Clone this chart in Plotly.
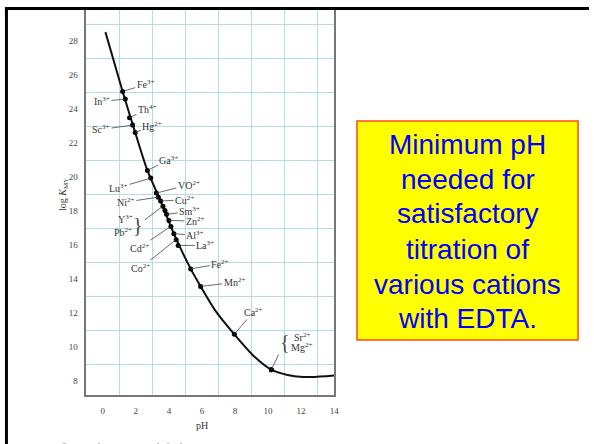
import plotly.graph_objects as go

W, H = 594, 444

# ---------------- data ----------------
curve_ph = [0.16, 1.20, 1.96, 2.70, 3.50, 4.30, 5.32, 5.92, 6.80, 7.96, 9.20, 10.20, 11.60, 12.60, 14.00]
curve_logk = [28.53, 25.04, 22.63, 20.39, 18.59, 16.67, 14.60, 13.57, 12.16, 10.75, 9.41, 8.67, 8.28, 8.24, 8.33]

cation_names = ["Fe<sup>3+</sup>", "In<sup>3+</sup>", "Th<sup>4+</sup>", "Sc<sup>3+</sup>", "Hg<sup>2+</sup>",
                "Ga<sup>3+</sup>", "Lu<sup>3+</sup>", "VO<sup>2+</sup>", "Ni<sup>2+</sup>", "Cu<sup>2+</sup>",
                "Y<sup>3+</sup>", "Pb<sup>2+</sup>", "Sm<sup>3+</sup>", "Zn<sup>2+</sup>", "Cd<sup>2+</sup>",
                "Al<sup>3+</sup>", "Co<sup>2+</sup>", "La<sup>3+</sup>", "Fe<sup>2+</sup>", "Mn<sup>2+</sup>",
                "Ca<sup>2+</sup>", "Sr<sup>2+</sup>", "Mg<sup>2+</sup>"]
cation_ph = [1.20, 1.36, 1.62, 1.80, 1.96, 2.70, 2.90, 3.24, 3.36, 3.50, 3.64, 3.76, 3.86, 4.00, 4.12,
             4.30, 4.44, 4.56, 5.32, 5.92, 7.96, 10.20, 10.20]
cation_logk = [25.04, 24.59, 23.49, 23.06, 22.63, 20.39, 19.94, 19.06, 18.82, 18.59, 18.29, 18.04, 17.81,
               17.45, 17.10, 16.67, 16.32, 15.98, 14.60, 13.57, 10.75, 8.67, 8.67]
label_ph = [2.6, -0.04, 2.7, -0.1, 3.0, 4.0, 0.96, 5.2, 1.4, 4.96, 1.4, 1.2, 5.26, 5.6, 2.2,
            5.6, 2.3, 6.2, 7.1, 7.95, 9.1, 12.05, 12.05]
label_logk = [25.45, 24.45, 24.02, 22.8, 23.02, 21.02, 19.38, 19.55, 18.53, 18.67, 17.55, 16.76, 17.98,
              17.41, 15.85, 16.57, 14.67, 15.98, 14.9, 13.8, 12.06, 10.62, 9.98]
label_leader = [True, True, True, True, True, True, True, True, True, True, False, False, True,
                True, True, True, True, True, True, True, True, False, False]

# grouped labels: bracket glyph, its position and the point its leader goes to
bracket_text = ["}", "{"]
bracket_ph = [2.16, 11.0]
bracket_logk = [17.2, 10.3]
bracket_target = [10, 21]  # indices into cation arrays

x_ticks = [0, 2, 4, 6, 8, 10, 12, 14]
y_ticks = [8, 10, 12, 14, 16, 18, 20, 22, 24, 26, 28]

box_lines = ["Minimum pH", "needed for", "satisfactory", "titration of", "various cations", "with EDTA."]
box_line_y = [144, 179, 213, 249, 284, 318]

# ---------------- figure ----------------
def px(x):
    return x / W


def py(y):
    return 1 - y / H


SERIF = "Liberation Serif, Times New Roman, serif"
SANS = "Liberation Sans, Arial, sans-serif"
GRID = "#b2dcea"

fig = go.Figure()
fig.add_trace(go.Scatter(x=curve_ph, y=curve_logk, mode="lines",
                         line=dict(color="#111", width=2, shape="spline", smoothing=0.8),
                         hoverinfo="skip", showlegend=False))
fig.add_trace(go.Scatter(x=cation_ph, y=cation_logk, mode="markers",
                         marker=dict(color="#000", size=5), showlegend=False))

annotations = []
for name, xp, yp, lx, ly, lead in zip(cation_names, cation_ph, cation_logk, label_ph, label_logk, label_leader):
    if lead:
        annotations.append(dict(x=xp, y=yp, xref="x", yref="y", ax=lx, ay=ly, axref="x", ayref="y",
                                text=name, showarrow=True, arrowhead=0, arrowwidth=0.8,
                                arrowcolor="#444", standoff=0, startstandoff=0,
                                font=dict(family=SERIF, size=10, color="#333")))
    else:
        annotations.append(dict(x=lx, y=ly, xref="x", yref="y", text=name, showarrow=False,
                                font=dict(family=SERIF, size=10, color="#333")))

for t, bx, by, idx in zip(bracket_text, bracket_ph, bracket_logk, bracket_target):
    annotations.append(dict(x=cation_ph[idx], y=cation_logk[idx], xref="x", yref="y",
                            ax=bx, ay=by, axref="x", ayref="y", text=t, showarrow=True,
                            arrowhead=0, arrowwidth=0.8, arrowcolor="#444", standoff=0,
                            font=dict(family=SERIF, size=20, color="#444")))

# axis titles
annotations.append(dict(x=px(204), y=py(418), xref="paper", yref="paper", yanchor="top",
                        text="pH", showarrow=False,
                        font=dict(family=SERIF, size=10, color="#333")))
annotations.append(dict(x=px(55), y=py(195), xref="paper", yref="paper",
                        text="log <i>K</i><sub>MY</sub>", textangle=-90, showarrow=False,
                        font=dict(family=SERIF, size=10, color="#333")))
# copyright (cut off at bottom)
annotations.append(dict(x=px(60), y=py(440), xref="paper", yref="paper", xanchor="left", yanchor="top",
                        text="© 2004 Thomson - Brooks/Cole", showarrow=False,
                        font=dict(family=SANS, size=9, color="#555")))
# yellow box text
for line, yy in zip(box_lines, box_line_y):
    annotations.append(dict(x=px(471.5), y=py(yy), xref="paper", yref="paper", text=line,
                            showarrow=False, xanchor="center", yanchor="middle",
                            font=dict(family=SANS, size=28, color="#0000ff")))

shapes = [
    # yellow box
    dict(type="rect", xref="paper", yref="paper", x0=px(360), x1=px(583), y0=py(340), y1=py(121),
         fillcolor="#ffff00", line=dict(color="#ff4a1c", width=1.5), layer="below"),
    # slide border (top and left)
    dict(type="line", xref="paper", yref="paper", x0=px(5), x1=1, y0=py(8.5), y1=py(8.5),
         line=dict(color="#000", width=3)),
    dict(type="line", xref="paper", yref="paper", x0=px(6.5), x1=px(6.5), y0=py(7), y1=0,
         line=dict(color="#000", width=3)),
]

fig.update_layout(
    width=W, height=H, margin=dict(l=0, r=0, t=0, b=0),
    paper_bgcolor="white", plot_bgcolor="white", showlegend=False,
    annotations=annotations, shapes=shapes,
    xaxis=dict(domain=[px(87), px(337)], range=[-1, 14], tickvals=x_ticks, showgrid=False,
               zeroline=False, showline=True, linecolor="#777", linewidth=1.5, mirror=True,
               ticks="", ticklabelstandoff=6,
               tickfont=dict(family=SERIF, size=9, color="#444"),
               minor=dict(tick0=1, dtick=2, showgrid=True, gridcolor=GRID, gridwidth=1)),
    yaxis=dict(domain=[py(395), py(10)], range=[7.18, 29.83], tickvals=y_ticks, showgrid=False,
               zeroline=False, showline=True, linecolor="#777", linewidth=1.5, mirror=True,
               ticks="", ticklabelstandoff=5,
               tickfont=dict(family=SERIF, size=9, color="#444"),
               minor=dict(tick0=1, dtick=2, showgrid=True, gridcolor=GRID, gridwidth=1)),
)

fig.write_html("out.html")
